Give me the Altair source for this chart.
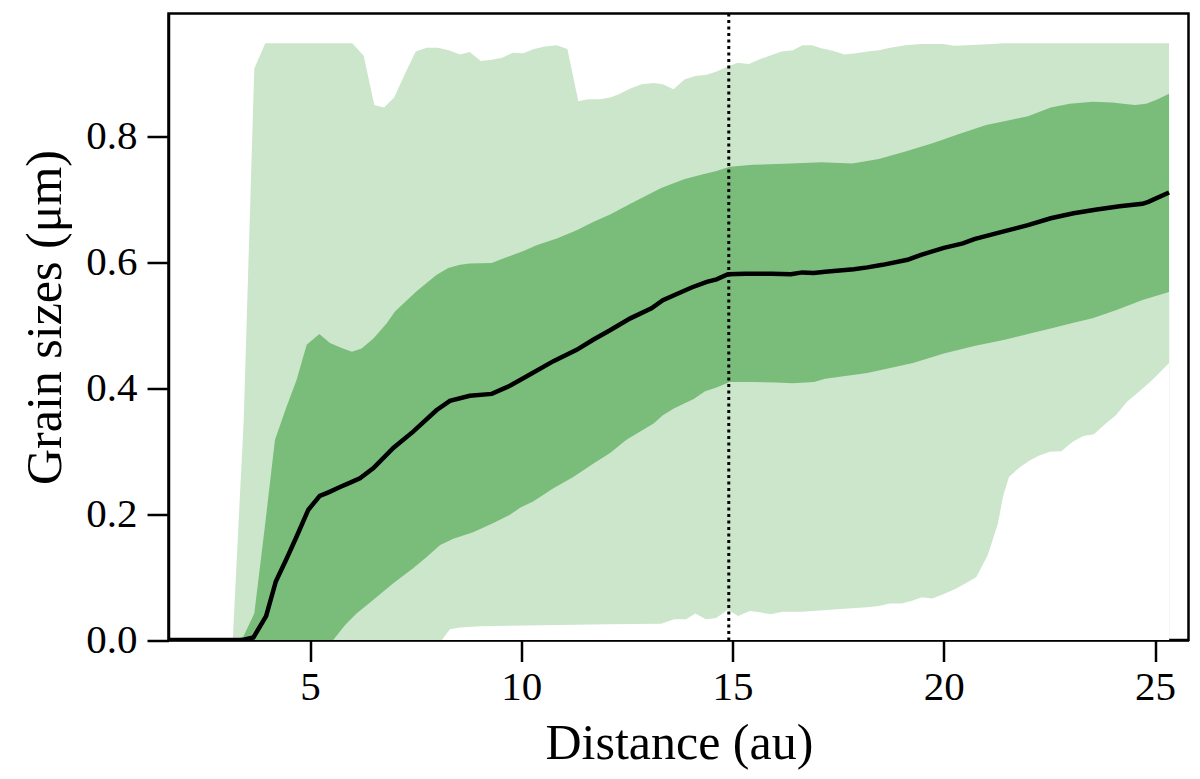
import altair as alt
import pandas as pd

# ---- data ----
# outer (light) band, upper boundary
light_hi_x = [1.65, 2.91, 3.17, 3.43, 3.68, 3.94, 6.00, 6.27, 6.52, 6.75, 6.99, 7.25, 7.50, 7.76,
              8.02, 8.28, 8.55, 8.78, 9.04, 9.30, 9.55, 9.80, 10.05, 10.30, 10.56, 10.84, 11.09,
              11.35, 11.58, 11.86, 12.10, 12.31, 12.58, 12.85, 13.13, 13.35, 13.60, 13.87, 14.12,
              14.39, 14.62, 14.89, 15.12, 15.39, 15.61, 15.88, 16.16, 16.43, 16.65, 16.88, 17.10,
              17.37, 17.65, 17.92, 18.19, 18.46, 18.73, 19.09, 19.46, 20.00, 20.23, 20.54, 21.17,
              21.40, 25.33]
light_hi_y = [0.0, 0.0, 0.0, 0.35, 0.908, 0.948, 0.948, 0.928, 0.850, 0.846, 0.862, 0.900, 0.935,
              0.941, 0.941, 0.937, 0.930, 0.934, 0.920, 0.922, 0.925, 0.933, 0.932, 0.939, 0.943,
              0.945, 0.939, 0.856, 0.859, 0.859, 0.862, 0.867, 0.876, 0.883, 0.885, 0.883, 0.875,
              0.891, 0.896, 0.898, 0.903, 0.911, 0.917, 0.915, 0.922, 0.928, 0.935, 0.937, 0.945,
              0.945, 0.940, 0.936, 0.930, 0.932, 0.935, 0.937, 0.941, 0.945, 0.947, 0.947, 0.944,
              0.945, 0.947, 0.948, 0.948]

# outer (light) band, lower boundary
light_lo_x = [1.65, 8.12, 8.31, 8.55, 9.02, 12.10, 13.31, 13.62, 13.90, 14.12, 14.37, 14.61, 14.89,
              15.13, 15.41, 15.64, 15.90, 16.18, 16.65, 17.47, 18.19, 18.46, 18.73, 19.00, 19.23,
              19.48, 19.73, 20.00, 20.27, 20.54, 20.77, 21.04, 21.28, 21.40, 21.54, 21.79, 22.03,
              22.26, 22.51, 22.78, 23.05, 23.30, 23.55, 23.80, 24.07, 24.34, 24.61, 24.88, 25.11,
              25.33]
light_lo_y = [0.0, 0.0, 0.017, 0.020, 0.022, 0.025, 0.026, 0.033, 0.033, 0.042, 0.033, 0.035, 0.048,
              0.038, 0.046, 0.044, 0.041, 0.045, 0.045, 0.049, 0.052, 0.054, 0.058, 0.058, 0.062,
              0.068, 0.066, 0.073, 0.081, 0.091, 0.100, 0.135, 0.185, 0.228, 0.259, 0.274, 0.285,
              0.293, 0.299, 0.300, 0.315, 0.324, 0.327, 0.342, 0.357, 0.379, 0.394, 0.410, 0.425,
              0.440]

# inner (dark) band, upper boundary
dark_hi_x = [1.65, 3.17, 3.42, 3.68, 3.93, 4.17, 4.43, 4.68, 4.92, 5.22, 5.47, 5.75, 5.99, 6.22,
             6.50, 6.81, 7.01, 7.52, 7.99, 8.27, 8.55, 8.78, 9.30, 9.57, 10.05, 10.36, 10.84, 11.31,
             11.70, 12.10, 12.58, 13.31, 13.85, 14.30, 14.62, 14.93, 15.48, 16.38, 17.10, 17.83,
             18.46, 19.09, 19.73, 20.36, 21.00, 21.63, 21.99, 22.53, 22.98, 23.52, 23.98, 24.52,
             24.79, 25.06, 25.33]
dark_hi_y = [0.0, 0.0, 0.005, 0.042, 0.18, 0.318, 0.368, 0.413, 0.469, 0.486, 0.472, 0.464, 0.458,
             0.463, 0.479, 0.503, 0.522, 0.554, 0.580, 0.591, 0.596, 0.598, 0.599, 0.606, 0.618,
             0.627, 0.638, 0.651, 0.664, 0.676, 0.693, 0.718, 0.732, 0.740, 0.745, 0.752, 0.755,
             0.757, 0.759, 0.757, 0.764, 0.776, 0.789, 0.804, 0.818, 0.827, 0.832, 0.846, 0.852,
             0.855, 0.854, 0.850, 0.852, 0.859, 0.868]

# inner (dark) band, lower boundary
dark_lo_x = [1.65, 5.55, 5.83, 6.10, 6.50, 6.97, 7.44, 7.76, 8.08, 8.39, 8.86, 9.34, 9.73, 9.97,
             10.28, 10.76, 11.23, 11.70, 12.10, 12.49, 13.13, 13.35, 13.62, 14.08, 14.35, 14.62,
             14.93, 15.48, 16.02, 16.43, 16.93, 17.19, 18.19, 18.73, 19.27, 20.00, 20.72, 21.44,
             21.99, 22.53, 23.07, 23.52, 24.07, 24.70, 25.33]
dark_lo_y = [0.0, 0.0, 0.024, 0.042, 0.064, 0.090, 0.114, 0.132, 0.151, 0.161, 0.171, 0.186, 0.199,
             0.210, 0.220, 0.241, 0.259, 0.280, 0.297, 0.318, 0.344, 0.357, 0.368, 0.383, 0.395,
             0.401, 0.410, 0.410, 0.409, 0.408, 0.410, 0.415, 0.424, 0.432, 0.440, 0.455, 0.467,
             0.477, 0.486, 0.495, 0.504, 0.511, 0.524, 0.540, 0.553]

# median
med_x = [1.65, 3.40, 3.66, 3.96, 4.19, 4.45, 4.68, 4.96, 5.23, 5.45, 5.71, 5.95, 6.18, 6.50, 6.97,
         7.44, 7.99, 8.31, 8.78, 9.30, 9.73, 10.13, 10.76, 11.31, 11.70, 12.10, 12.58, 13.08,
         13.35, 14.03, 14.39, 14.62, 14.89, 15.30, 15.93, 16.38, 16.65, 16.92, 17.19, 17.87,
         18.19, 18.55, 19.14, 19.46, 20.00, 20.45, 20.72, 21.35, 21.99, 22.53, 23.07, 23.62,
         24.16, 24.70, 24.84, 25.33]
med_y = [0.0, 0.0, 0.004, 0.038, 0.093, 0.130, 0.164, 0.207, 0.229, 0.235, 0.243, 0.250, 0.257,
         0.273, 0.305, 0.331, 0.365, 0.380, 0.388, 0.391, 0.404, 0.419, 0.443, 0.461, 0.477,
         0.492, 0.511, 0.527, 0.540, 0.560, 0.569, 0.573, 0.581, 0.582, 0.582, 0.581, 0.584,
         0.583, 0.585, 0.589, 0.592, 0.596, 0.604, 0.612, 0.623, 0.630, 0.637, 0.648, 0.659,
         0.670, 0.678, 0.684, 0.689, 0.693, 0.696, 0.711]

vline_x = [14.91]

x_ticks = [5, 10, 15, 20, 25]
y_ticks = [0.0, 0.2, 0.4, 0.6, 0.8]

LIGHT = "#cce6cc"
DARK = "#7abd7a"
FONT = "Liberation Serif"

xscale = alt.Scale(domain=[1.65, 25.79], nice=False, zero=False)
yscale = alt.Scale(domain=[0, 0.9953], nice=False, zero=False)

xaxis = alt.Axis(values=x_ticks, format="d", title="Distance (au)", grid=False,
                 titleX=510.4, titleY=118.3, titleBaseline="alphabetic", titleAlign="center",
                 labelPadding=6)
yaxis = alt.Axis(values=y_ticks, format=".1f", title="Grain sizes (μm)", grid=False,
                 titleX=-108.5, titleY=303.5, titleAngle=270, titleBaseline="alphabetic",
                 titleAlign="center", labelPadding=10)


def area(xs, ys, color):
    df = pd.DataFrame({"x": xs, "y": ys})
    return alt.Chart(df).mark_area(color=color, opacity=1, clip=True).encode(
        x=alt.X("x:Q", scale=xscale, axis=xaxis),
        y=alt.Y("y:Q", scale=yscale, axis=yaxis),
    )


light_hi = area(light_hi_x, light_hi_y, LIGHT)
dark_hi = area(dark_hi_x, dark_hi_y, DARK)
dark_lo = area(dark_lo_x, dark_lo_y, LIGHT)
light_lo = area(light_lo_x, light_lo_y, "#ffffff")

median = alt.Chart(pd.DataFrame({"x": med_x, "y": med_y})).mark_line(
    color="black", strokeWidth=4.5, clip=True
).encode(
    x=alt.X("x:Q", scale=xscale, axis=xaxis),
    y=alt.Y("y:Q", scale=yscale, axis=yaxis),
)

vline = alt.Chart(pd.DataFrame({"x": vline_x})).mark_rule(
    color="black", strokeWidth=3, strokeDash=[3, 3.5]
).encode(x=alt.X("x:Q", scale=xscale, axis=xaxis))

chart = alt.layer(light_hi, dark_hi, dark_lo, light_lo, median, vline).properties(
    width=1020,
    height=626.5,
    autosize=alt.AutoSizeParams(type="none"),
    padding={"left": 160.5, "top": 5.5, "right": 3, "bottom": 132},
).configure_view(
    stroke="black", strokeWidth=2.5
).configure_axis(
    domainColor="black", domainWidth=2.5, tickColor="black", tickWidth=2.5, tickSize=21.5,
    labelFont=FONT, labelFontSize=41, labelColor="black",
    titleFont=FONT, titleFontSize=50, titleFontWeight="normal", titleColor="black",
    zindex=1,
)

chart.save("out.html", embed_options={"renderer": "svg", "actions": False})
